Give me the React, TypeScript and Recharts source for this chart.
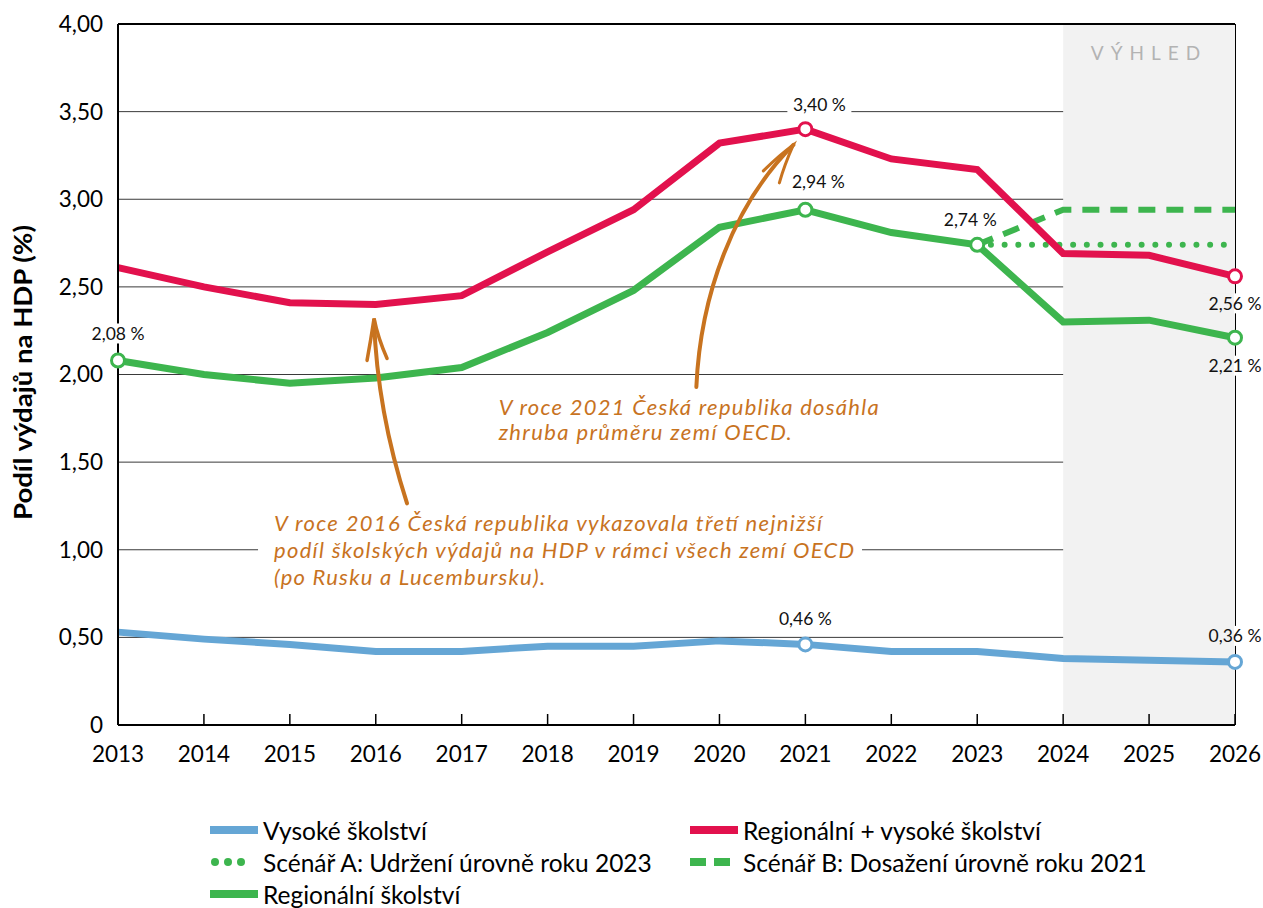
import React from 'react';
import {
  LineChart,
  Line,
  XAxis,
  YAxis,
  CartesianGrid,
  ReferenceArea,
  ReferenceLine,
  ReferenceDot,
} from 'recharts';

// ---------- DATA ----------
const years = [2013, 2014, 2015, 2016, 2017, 2018, 2019, 2020, 2021, 2022, 2023, 2024, 2025, 2026];
const vysoke = [0.53, 0.49, 0.46, 0.42, 0.42, 0.45, 0.45, 0.48, 0.46, 0.42, 0.42, 0.38, 0.37, 0.36];
const regionalni = [2.08, 2.0, 1.95, 1.98, 2.04, 2.24, 2.48, 2.84, 2.94, 2.81, 2.74, 2.3, 2.31, 2.21];
const celkem = [2.61, 2.5, 2.41, 2.4, 2.45, 2.7, 2.94, 3.32, 3.4, 3.23, 3.17, 2.69, 2.68, 2.56];
const scenarA = [null, null, null, null, null, null, null, null, null, null, 2.74, 2.74, 2.74, 2.74];
const scenarB = [null, null, null, null, null, null, null, null, null, null, 2.74, 2.94, 2.94, 2.94];
const yTicks = [0, 0.5, 1, 1.5, 2, 2.5, 3, 3.5, 4];
const outlookStart = 2024;
const outlookEnd = 2026;

const seriesNames = {
  vysoke: 'Vysoké školství',
  celkem: 'Regionální + vysoké školství',
  scenarA: 'Scénář A: Udržení úrovně roku 2023',
  scenarB: 'Scénář B: Dosažení úrovně roku 2021',
  regionalni: 'Regionální školství',
};

const note2021 = ['V roce 2021 Česká republika dosáhla', 'zhruba průměru zemí OECD.'];
const note2016 = [
  'V roce 2016 Česká republika vykazovala třetí nejnižší',
  'podíl školských výdajů na HDP v rámci všech zemí OECD',
  '(po Rusku a Lucembursku).',
];

const data = years.map((year, i) => ({
  year,
  vysoke: vysoke[i],
  regionalni: regionalni[i],
  celkem: celkem[i],
  scenarA: scenarA[i],
  scenarB: scenarB[i],
}));

// ---------- STYLE ----------
const FONT = 'Lato, "Open Sans", sans-serif';
const RED = '#e2114d';
const GREEN = '#3db54e';
const BLUE = '#65a6d5';
const ORANGE = '#c8731f';
const GRAY_BG = '#f2f2f2';

const fmtPct = (v: number) => v.toFixed(2).replace('.', ',') + ' %';
const fmtTick = (v: number) => (v === 0 ? '0' : v.toFixed(2).replace('.', ','));

const seriesArrays: Record<string, number[]> = { vysoke, regionalni, celkem };

const markerIdx: Record<string, number[]> = {
  celkem: [8, 13],
  regionalni: [0, 8, 10, 13],
  vysoke: [8, 13],
};

type Spec = { dx: number; dy: number; bg?: boolean };
const labelSpecs: Record<string, Record<number, Spec>> = {
  celkem: { 8: { dx: 14, dy: -25, bg: true }, 13: { dx: 0, dy: 27, bg: true } },
  regionalni: {
    0: { dx: 0, dy: -27, bg: true },
    8: { dx: 13, dy: -28 },
    10: { dx: -7, dy: -25 },
    13: { dx: 0, dy: 28, bg: true },
  },
  vysoke: { 8: { dx: 0, dy: -26 }, 13: { dx: 0, dy: -26, bg: true } },
};

const makeDot = (key: string, color: string) => (p: any) => {
  if (!markerIdx[key].includes(p.index)) return <g key={`d-${key}-${p.index}`} />;
  return (
    <circle
      key={`d-${key}-${p.index}`}
      cx={p.cx}
      cy={p.cy}
      r={6.5}
      fill="#fff"
      stroke={color}
      strokeWidth={3}
    />
  );
};

const makeLabel = (key: string) => (p: any) => {
  const spec = labelSpecs[key][p.index];
  if (!spec) return <g key={`l-${key}-${p.index}`} />;
  const value = seriesArrays[key][p.index];
  const x = p.x + spec.dx;
  const y = p.y + spec.dy;
  const w = 64;
  const inOutlook = years[p.index] >= outlookStart;
  return (
    <g key={`l-${key}-${p.index}`}>
      {spec.bg && !inOutlook && <rect x={x - w / 2} y={y - 10} width={w} height={20} fill="#fff" />}
      {spec.bg && inOutlook && (
        <>
          <rect x={x - w / 2} y={y - 10} width={p.x - 1 - (x - w / 2)} height={20} fill={GRAY_BG} />
          <rect x={p.x - 1} y={y - 10} width={x + w / 2 - p.x + 1} height={20} fill="#fff" />
        </>
      )}
      <text
        x={x}
        y={y}
        textAnchor="middle"
        dominantBaseline="central"
        fontFamily={FONT}
        fontSize={17.5}
        fill="#111"
      >
        {fmtPct(value)}
      </text>
    </g>
  );
};

const Arrow1 = (p: any) => (
  <g fill="none" stroke={ORANGE} strokeLinecap="round">
    <path d={`M ${p.cx + 33} ${p.cy + 185} C ${p.cx + 12} ${p.cy + 120}, ${p.cx + 2} ${p.cy + 60}, ${p.cx} ${p.cy + 2}`} strokeWidth={4} />
    <path d={`M ${p.cx - 7} ${p.cy + 42} Q ${p.cx - 3} ${p.cy + 20} ${p.cx} ${p.cy} Q ${p.cx + 4} ${p.cy + 20} ${p.cx + 13} ${p.cy + 40}`} strokeWidth={3.5} />
  </g>
);

const Arrow2 = (p: any) => (
  <g fill="none" stroke={ORANGE} strokeLinecap="round">
    <path d={`M ${p.cx - 97} ${p.cy + 242} C ${p.cx - 93} ${p.cy + 150}, ${p.cx - 60} ${p.cy + 60}, ${p.cx} ${p.cy}`} strokeWidth={4} />
    <path d={`M ${p.cx - 30} ${p.cy + 26} Q ${p.cx - 14} ${p.cy + 10} ${p.cx} ${p.cy} Q ${p.cx - 9} ${p.cy + 20} ${p.cx - 14} ${p.cy + 38}`} strokeWidth={3} />
  </g>
);

const NoteText =
  (lines: string[], widths: number[], lineGap: number, bgLine?: { idx: number; x0: number; x1: number }) =>
  (p: any) => (
    <g>
      {bgLine && (
        <rect
          x={p.cx + bgLine.x0}
          y={p.cy + bgLine.idx * lineGap - 11}
          width={bgLine.x1 - bgLine.x0}
          height={22}
          fill="#fff"
        />
      )}
      {lines.map((t, i) => (
        <text
          key={i}
          x={p.cx}
          y={p.cy + i * lineGap}
          dominantBaseline="central"
          fontFamily={FONT}
          fontStyle="italic"
          fontSize={22}
          textLength={widths[i]}
          lengthAdjust="spacing"
          fill={ORANGE}
        >
          {t}
        </text>
      ))}
    </g>
  );

const OutlookText = (p: any) => (
  <text
    x={p.cx}
    y={p.cy}
    textAnchor="middle"
    dominantBaseline="central"
    fontFamily={FONT}
    fontSize={19}
    letterSpacing={7}
    fill="#b3b3b3"
  >
    VÝHLED
  </text>
);

const YLabel = (props: any) => {
  const vb = props.viewBox || { x: 0, y: 16, height: 701 };
  const cx = vb.x + 14;
  const cy = vb.y + vb.height / 2 - 2;
  return (
    <text
      x={cx}
      y={cy}
      transform={`rotate(-90 ${cx} ${cy})`}
      textAnchor="middle"
      dominantBaseline="central"
      fontFamily={FONT}
      fontWeight={700}
      fontSize={24}
      textLength={295}
      lengthAdjust="spacingAndGlyphs"
      fill="#000"
    >
      Podíl výdajů na HDP (%)
    </text>
  );
};

const LegendMarker = ({ kind, color }: { kind: string; color: string }) => (
  <svg width={48} height={12} style={{ display: 'block', flex: 'none' }}>
    {kind === 'solid' && <rect x={0} y={2} width={48} height={8} fill={color} />}
    {kind === 'dots' &&
      [5, 18, 31].map((cx) => <circle key={cx} cx={cx} cy={6} r={4} fill={color} />)}
    {kind === 'dash' && (
      <>
        <rect x={0} y={2} width={16} height={8} fill={color} />
        <rect x={24} y={2} width={16} height={8} fill={color} />
      </>
    )}
  </svg>
);

const legendItems = [
  { name: seriesNames.vysoke, kind: 'solid', color: BLUE },
  { name: seriesNames.celkem, kind: 'solid', color: RED },
  { name: seriesNames.scenarA, kind: 'dots', color: GREEN },
  { name: seriesNames.scenarB, kind: 'dash', color: GREEN },
  { name: seriesNames.regionalni, kind: 'solid', color: GREEN },
];

export default function App() {
  return (
    <div style={{ padding: '8px 0 0 8px', width: 1255, height: 900 }}>
      <style>{'html{overflow:hidden;} body{margin:0;}'}</style>
      <div style={{ position: 'relative', width: 1255, height: 900, fontFamily: FONT }}>
        <LineChart
          width={1255}
          height={900}
          data={data}
          margin={{ top: 16, right: 28, left: 0, bottom: 143 }}
          style={{ overflow: 'visible' }}
        >
          <ReferenceArea
            x1={outlookStart}
            x2={outlookEnd}
            y1={0}
            y2={4}
            fill={GRAY_BG}
            fillOpacity={1}
            stroke="none"
          />
          <CartesianGrid horizontal vertical={false} stroke="#3a3a3a" strokeWidth={1} />
          <CartesianGrid
            horizontal={false}
            vertical
            verticalValues={[outlookEnd]}
            stroke="#000"
            strokeWidth={2}
          />
          <XAxis
            dataKey="year"
            type="number"
            domain={[2013, 2026]}
            ticks={years}
            height={40}
            axisLine={{ stroke: '#000', strokeWidth: 2 }}
            tickLine={{ stroke: '#000', strokeWidth: 1.5 }}
            tickSize={-11}
            tickMargin={32}
            tick={{ fontFamily: FONT, fontSize: 22.5, fill: '#000' }}
          />
          <YAxis
            type="number"
            domain={[0, 4]}
            ticks={yTicks}
            width={110}
            axisLine={{ stroke: '#000', strokeWidth: 2 }}
            tickLine={false}
            tickSize={6}
            tickMargin={9}
            tickFormatter={fmtTick}
            tick={{ fontFamily: FONT, fontSize: 22.5, fill: '#000' }}
            label={<YLabel />}
          />
          <ReferenceLine y={4} stroke="#000" strokeWidth={2} ifOverflow="visible" />

          <ReferenceDot x={2025} y={3.835} r={0} ifOverflow="visible" shape={OutlookText} />
          <ReferenceDot
            x={2014.816}
            y={1.158}
            r={0}
            ifOverflow="visible"
            shape={NoteText(note2016, [548, 580, 271], 27, { idx: 1, x0: -16, x1: 588 })}
          />
          <ReferenceDot
            x={2017.43}
            y={1.815}
            r={0}
            ifOverflow="visible"
            shape={NoteText(note2021, [380, 293], 25)}
          />
          <ReferenceDot x={2015.98} y={2.32} r={0} ifOverflow="visible" shape={Arrow1} />
          <ReferenceDot x={2020.86} y={3.31} r={0} ifOverflow="visible" shape={Arrow2} />

          <Line
            dataKey="vysoke"
            name={seriesNames.vysoke}
            stroke={BLUE}
            strokeWidth={7}
            dot={makeDot('vysoke', BLUE)}
            label={makeLabel('vysoke')}
            isAnimationActive={false}
            activeDot={false}
          />
          <Line
            dataKey="scenarB"
            name={seriesNames.scenarB}
            stroke={GREEN}
            strokeWidth={6}
            strokeDasharray="17 11"
            dot={false}
            isAnimationActive={false}
            activeDot={false}
          />
          <Line
            dataKey="scenarA"
            name={seriesNames.scenarA}
            stroke={GREEN}
            strokeWidth={6}
            strokeDasharray="0 13.7"
            strokeLinecap="round"
            dot={false}
            isAnimationActive={false}
            activeDot={false}
          />
          <Line
            dataKey="regionalni"
            name={seriesNames.regionalni}
            stroke={GREEN}
            strokeWidth={7}
            dot={makeDot('regionalni', GREEN)}
            label={makeLabel('regionalni')}
            isAnimationActive={false}
            activeDot={false}
          />
          <Line
            dataKey="celkem"
            name={seriesNames.celkem}
            stroke={RED}
            strokeWidth={7}
            dot={makeDot('celkem', RED)}
            label={makeLabel('celkem')}
            isAnimationActive={false}
            activeDot={false}
          />
        </LineChart>

        <div
          style={{
            position: 'absolute',
            left: 202,
            top: 806,
            width: 960,
            display: 'flex',
            flexWrap: 'wrap',
          }}
        >
          {legendItems.map((it) => (
            <div
              key={it.name}
              style={{
                width: 480,
                height: 32,
                display: 'flex',
                alignItems: 'center',
                gap: 5,
              }}
            >
              <LegendMarker kind={it.kind} color={it.color} />
              <span style={{ fontSize: 24.5, color: '#000', whiteSpace: 'nowrap' }}>{it.name}</span>
            </div>
          ))}
        </div>
      </div>
    </div>
  );
}
